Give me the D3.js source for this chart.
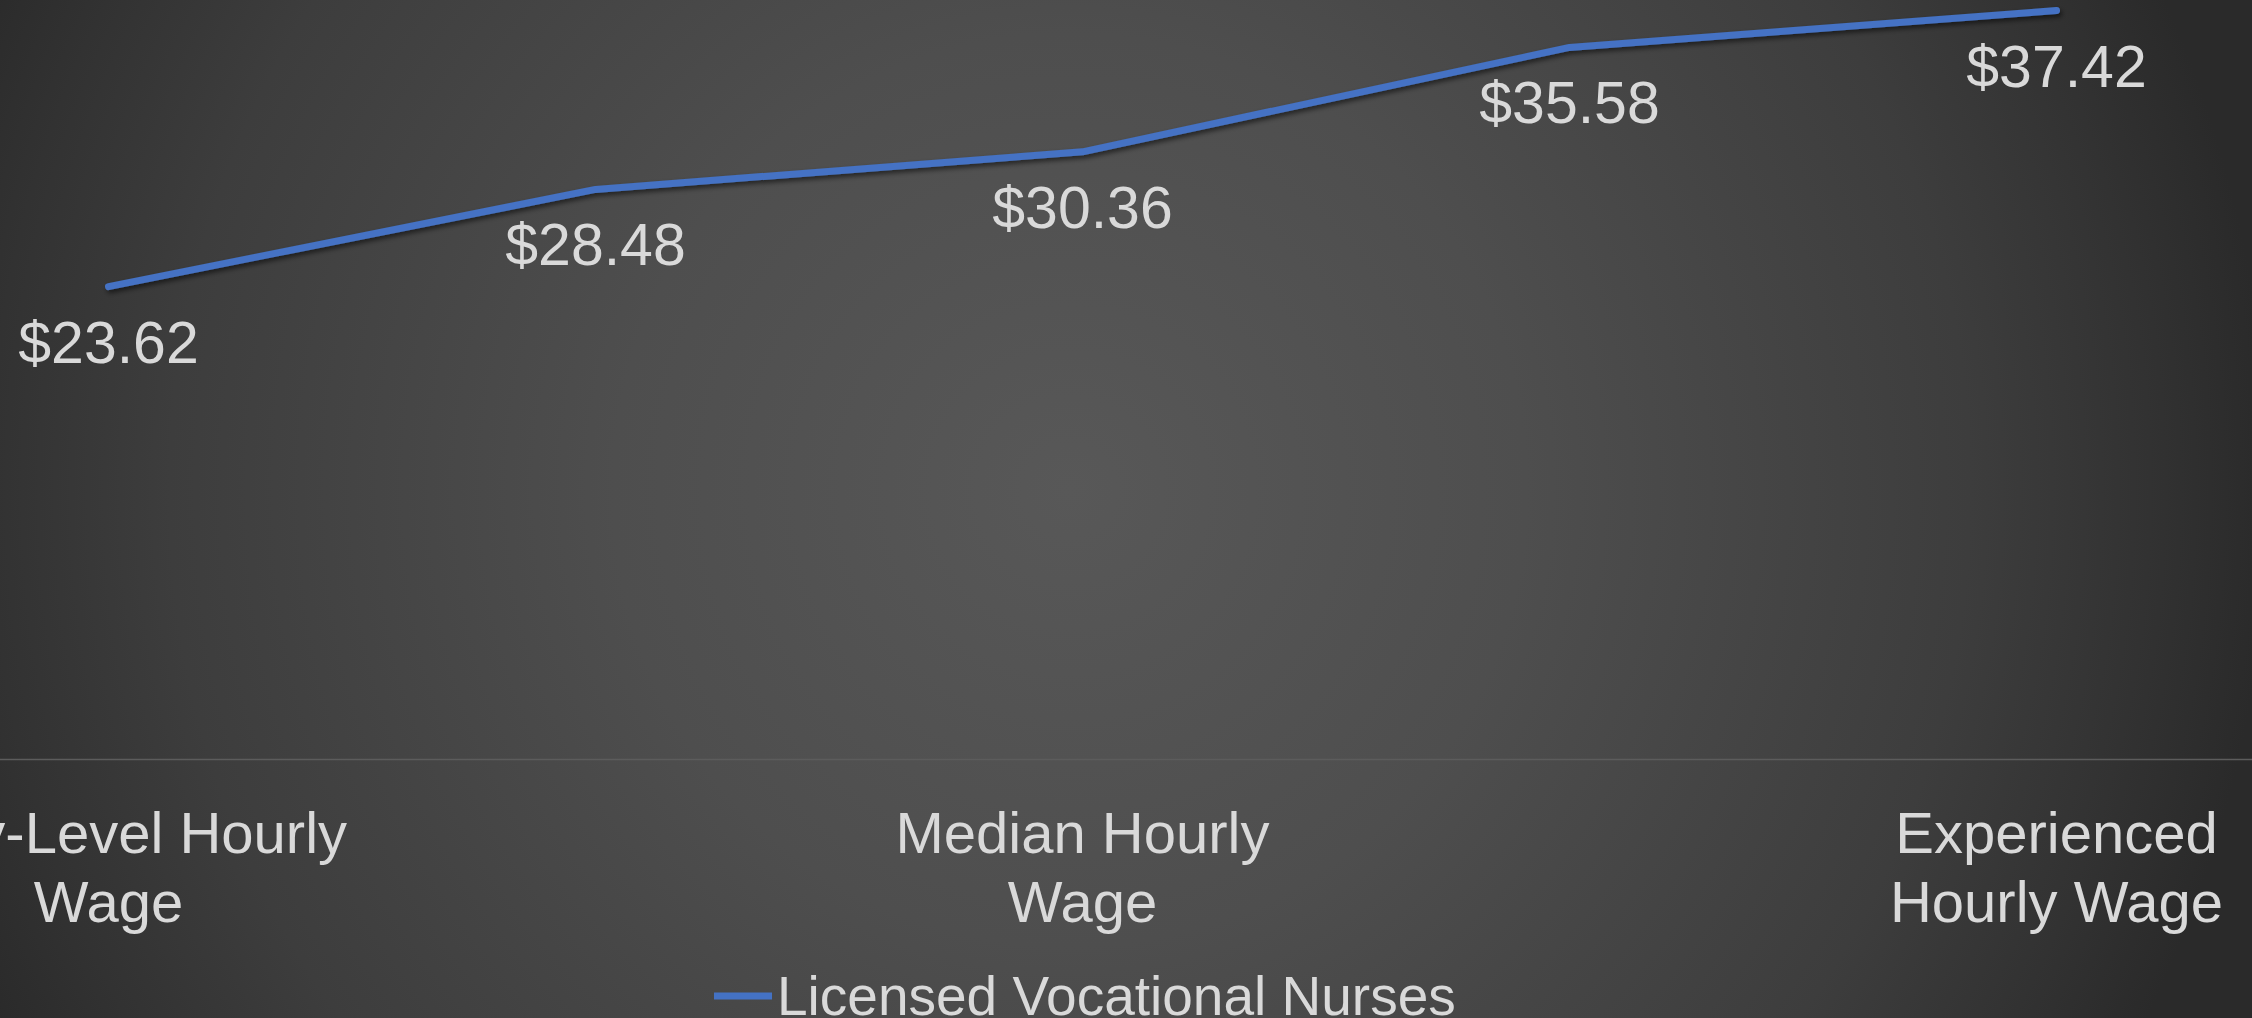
<!DOCTYPE html>
<html>
<head>
<meta charset="utf-8">
<script src="https://cdn.jsdelivr.net/npm/d3@7"></script>
<style>
  html, body { margin: 0; padding: 0; background: #2a2a2a; overflow: hidden; }
  svg text { font-family: "Liberation Sans", Arial, sans-serif; fill: #d9d9d9; }
</style>
</head>
<body>
<div id="chart"></div>
<script>
// data
var categories = ["Entry-Level Hourly Wage", "25th Percentile Hourly Wage", "Median Hourly Wage", "75th Percentile Hourly Wage", "Experienced Hourly Wage"];
var categoryLines = [["Entry-Level Hourly", "Wage"], ["25th Percentile", "Hourly Wage"], ["Median Hourly", "Wage"], ["75th Percentile", "Hourly Wage"], ["Experienced", "Hourly Wage"]];
var wages = [23.62, 28.48, 30.36, 35.58, 37.42];
var seriesName = "Licensed Vocational Nurses";
var yDomain = [0, 40];

var width = 2252, height = 1018;

// the plot area runs past the edges of the slide, so it is cropped
var plot = {left: -135, right: 2300, top: -41, bottom: 759};

var svg = d3.select("#chart")
    .append("svg")
    .attr("width", width)
    .attr("height", height);

var defs = svg.append("defs");

var bg = defs.append("radialGradient")
    .attr("id", "bg")
    .attr("gradientUnits", "userSpaceOnUse")
    .attr("cx", 1070).attr("cy", 490).attr("r", 1200);
[[0, "#585858"], [0.38, "#4e4e4e"], [0.75, "#3d3d3d"], [0.9, "#323232"], [1, "#2a2a2a"]].forEach(function(s){
    bg.append("stop").attr("offset", s[0]).attr("stop-color", s[1]);
});

var shadow = defs.append("filter")
    .attr("id", "shadow")
    .attr("x", "-5%").attr("y", "-50%")
    .attr("width", "110%").attr("height", "200%");
shadow.append("feDropShadow")
    .attr("dx", 2).attr("dy", 3)
    .attr("stdDeviation", 2.5)
    .attr("flood-color", "#000")
    .attr("flood-opacity", 0.55);

svg.append("rect")
    .attr("width", width)
    .attr("height", height)
    .attr("fill", "url(#bg)");

var xScale = d3.scaleBand()
    .domain(categories)
    .range([plot.left, plot.right]);

var yScale = d3.scaleLinear()
    .domain(yDomain)
    .range([plot.bottom, plot.top]);

var cx = function(c){ return xScale(c) + xScale.bandwidth() / 2; };

// category axis, every other label shown as in the original
var xAxis = d3.axisBottom(xScale)
    .tickValues(categories.filter(function(d, i){ return i % 2 === 0; }))
    .tickSize(0)
    .tickFormat("");

var axisG = svg.append("g")
    .attr("transform", "translate(0," + plot.bottom + ")")
    .call(xAxis);

axisG.select(".domain")
    .attr("stroke", "#5c5c5c")
    .attr("stroke-width", 1.5);

axisG.selectAll(".tick text").remove();
axisG.selectAll(".tick").each(function(d){
    var lines = categoryLines[categories.indexOf(d)];
    var t = d3.select(this).append("text")
        .attr("text-anchor", "middle")
        .attr("font-size", 58)
        .attr("y", 94);
    lines.forEach(function(l, i){
        t.append("tspan")
            .attr("x", 0)
            .attr("dy", i === 0 ? 0 : 69)
            .text(l);
    });
});

var line = d3.line()
    .x(function(d, i){ return cx(categories[i]); })
    .y(function(d){ return yScale(d); });

svg.append("path")
    .datum(wages)
    .attr("d", line)
    .attr("fill", "none")
    .attr("stroke", "#4472c4")
    .attr("stroke-width", 7)
    .attr("stroke-linecap", "round")
    .attr("stroke-linejoin", "round")
    .attr("filter", "url(#shadow)");

svg.selectAll(".dataLabel")
    .data(wages)
    .enter()
    .append("text")
    .attr("class", "dataLabel")
    .attr("text-anchor", "middle")
    .attr("font-size", 59)
    .attr("x", function(d, i){ return cx(categories[i]); })
    .attr("y", function(d){ return yScale(d) + 76; })
    .text(function(d){ return "$" + d3.format(".2f")(d); });

// legend
var legend = svg.append("g")
    .attr("transform", "translate(714,996)");

legend.append("line")
    .attr("x1", 0).attr("x2", 58)
    .attr("y1", 0).attr("y2", 0)
    .attr("stroke", "#4472c4")
    .attr("stroke-width", 7);

legend.append("text")
    .attr("x", 63)
    .attr("y", 19)
    .attr("font-size", 55)
    .text(seriesName);
</script>
</body>
</html>
